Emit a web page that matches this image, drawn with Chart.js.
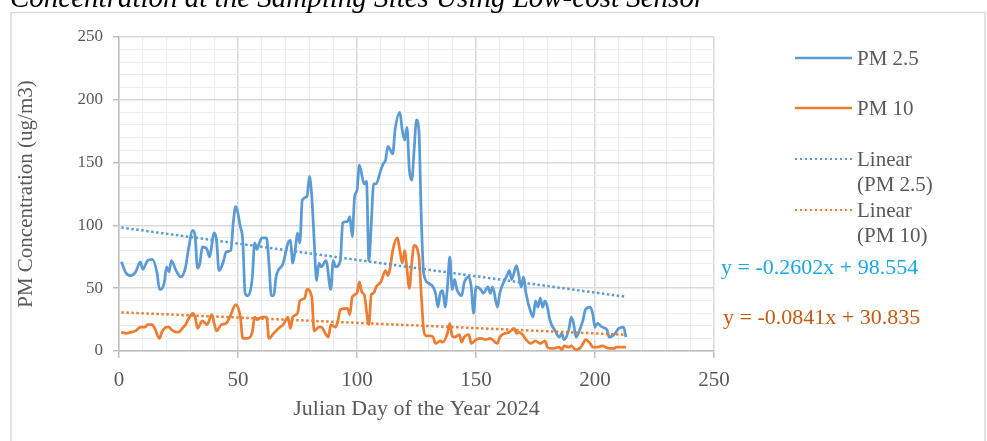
<!DOCTYPE html>
<html>
<head>
<meta charset="utf-8">
<script src="https://cdn.jsdelivr.net/npm/chart.js@4.4.1/dist/chart.umd.min.js"></script>
<style>
  html, body { margin: 0; padding: 0; background: #ffffff; }
  #wrap { position: relative; width: 987px; height: 441px; overflow: hidden; }
</style>
</head>
<body>
<div id="wrap"><canvas id="chart" width="987" height="441"></canvas></div>
<script>
// Daily PM readings from the low-cost sensor (Julian day, ug/m3)
const pm25Days = [1,3,5,7,9,10,12,14,16,17,19,20,21,22,24,26,28,29,31,32,33,34,35,37,38,40,41,42,44,45,47,48,49,51,52,53,54,56,57,58,59,60,62,63,64,65,66,69,71,72,73,74,75,76,77,79,80,81,82,83,84,85,87,89,90,91,93,94,96,97,98,99,100,101,103,104,105,106,107,108,110,111,112,113,115,116,118,119,120,121,122,123,124,125,126,127,128,130,132,133,134,135,136,137,138,139,140,141,142,144,145,147,148,149,150,152,153,155,156,157,159,160,161,163,164,165,167,168,169,170,171,173,174,175,176,177,178,179,180,181,182,183,185,186,187,189,190,191,192,194,195,196,198,199,200,201,203,205,206,208,210,212,213];
const pm25Values = [71,62,60,63,71,65,72,73,62,49,54,67,63,72,64,59,67,79,96,91,66,70,83,81,75,94,88,64,72,79,80,102,115,99,88,46,44,58,86,81,86,90,90,70,44,44,59,70,86,88,70,80,94,86,120,123,139,123,88,56,70,67,72,49,72,67,72,102,103,107,91,123,128,148,133,135,72,101,133,133,144,149,152,163,157,176,190,176,168,178,144,136,160,184,176,107,62,54,51,46,35,46,48,35,51,75,49,57,49,44,54,59,51,30,51,49,46,51,46,51,35,46,52,60,64,57,68,60,51,59,46,31,27,40,35,42,35,40,35,25,20,17,11,14,9,17,27,22,11,19,25,33,35,30,19,22,19,17,11,13,18,19,11];

const pm10Days = [1,3,5,7,9,11,12,14,15,17,18,20,21,22,24,25,27,28,29,30,31,32,33,34,35,37,39,40,41,43,45,47,49,51,52,54,56,57,58,60,62,63,65,67,69,71,72,73,75,76,78,79,81,82,84,85,87,88,89,91,92,93,96,97,98,100,101,102,103,105,106,107,108,110,112,113,114,115,117,118,119,120,121,122,123,124,126,127,128,129,131,132,133,135,136,138,139,140,141,143,144,145,147,148,150,152,154,156,159,160,162,164,166,167,168,170,171,173,174,175,177,179,180,182,185,186,187,189,190,192,194,195,196,198,199,201,203,206,208,209,211,213];
const pm10Values = [15,14,15,16,19,19,21,21,18,10,15,19,19,17,15,15,19,21,25,28,30,27,18,21,24,21,29,22,16,21,22,29,37,27,10,10,15,27,25,27,27,10,14,18,21,27,18,27,30,40,42,49,43,16,19,19,13,11,21,19,24,33,34,29,43,46,55,47,45,21,45,46,51,55,64,60,67,80,90,80,70,80,65,50,70,84,75,45,17,12,12,11,6,8,7,14,22,12,11,13,7,11,13,6,9,10,9,10,6,11,14,15,18,14,15,12,9,6,7,8,6,8,3,2,3,1,4,3,4,1,3,6,9,6,3,3,4,2,2,3,3,3];

// Linear trend lines (least-squares fits shown as equations)
const pm25Trend = { slope: -0.2602, intercept: 98.554 };
const pm10Trend = { slope: -0.0841, intercept: 30.835 };

const seriesNames = ['PM 2.5', 'PM 10'];
const trendNames = [['Linear', '(PM 2.5)'], ['Linear', '(PM 10)']];
const xTitle = 'Julian Day of the Year 2024';
const yTitle = 'PM Concentration (ug/m3)';
const chartTitle = 'Concentration at the Sampling Sites Using Low-cost Sensor';

const BLUE = '#5b9bd5';
const ORANGE = '#ed7d31';
const TEXT = '#595959';
const SERIF = '"Liberation Serif", "Times New Roman", serif';

function toPoints(days, values) {
  return days.map((d, i) => ({ x: d, y: values[i] }));
}
function trendPoints(days, fit) {
  const a = days[0], b = days[days.length - 1];
  return [{ x: a, y: fit.intercept + fit.slope * a }, { x: b, y: fit.intercept + fit.slope * b }];
}
function fmtEq(fit) {
  return 'y = ' + fit.slope.toFixed(4) + 'x + ' + fit.intercept.toFixed(3);
}

// Frame, title, legend and trend equations drawn on top of the plot
const decorations = {
  id: 'decorations',
  afterDraw(chart) {
    const ctx = chart.ctx;
    ctx.save();
    // outer frame
    ctx.strokeStyle = '#d9d9d9';
    ctx.lineWidth = 1.5;
    ctx.strokeRect(11, 12.5, 974, 440);

    // heading (partly above the frame)
    ctx.fillStyle = '#000000';
    ctx.font = 'italic 29px ' + SERIF;
    ctx.textBaseline = 'alphabetic';
    ctx.textAlign = 'left';
    ctx.fillText(chartTitle, 10, 7);

    // legend
    const items = [
      { lines: [seriesNames[0]], color: BLUE, dash: [], y: 58 },
      { lines: [seriesNames[1]], color: ORANGE, dash: [], y: 108 },
      { lines: trendNames[0], color: BLUE, dash: [2, 3], y: 159 },
      { lines: trendNames[1], color: ORANGE, dash: [2, 3], y: 210 }
    ];
    ctx.font = '21px ' + SERIF;
    ctx.textBaseline = 'middle';
    items.forEach(it => {
      ctx.beginPath();
      ctx.setLineDash(it.dash);
      ctx.strokeStyle = it.color;
      ctx.lineWidth = it.dash.length ? 2 : 2.5;
      ctx.moveTo(795, it.y);
      ctx.lineTo(852, it.y);
      ctx.stroke();
      ctx.setLineDash([]);
      ctx.fillStyle = TEXT;
      it.lines.forEach((t, k) => ctx.fillText(t, 857, it.y + 1 + k * 25.5));
    });

    // trend equations
    ctx.font = '22px ' + SERIF;
    ctx.fillStyle = '#1aa7e6';
    ctx.fillText(fmtEq(pm25Trend), 721, 268);
    ctx.fillStyle = '#c55a11';
    ctx.fillText(fmtEq(pm10Trend), 723, 318);
    ctx.restore();
  }
};

const isMajor = v => Math.abs(v % 50) < 1e-6;

new Chart(document.getElementById('chart'), {
  type: 'line',
  data: {
    datasets: [
      { label: seriesNames[0], data: toPoints(pm25Days, pm25Values), borderColor: BLUE, borderWidth: 2.75,
        pointRadius: 0, cubicInterpolationMode: 'monotone', fill: false, order: 2 },
      { label: seriesNames[1], data: toPoints(pm10Days, pm10Values), borderColor: ORANGE, borderWidth: 2.75,
        pointRadius: 0, cubicInterpolationMode: 'monotone', fill: false, order: 2 },
      { label: 'Linear (PM 2.5)', data: trendPoints(pm25Days, pm25Trend), borderColor: BLUE, borderWidth: 2.5,
        borderDash: [2.5, 2.5], pointRadius: 0, fill: false, order: 1 },
      { label: 'Linear (PM 10)', data: trendPoints(pm10Days, pm10Trend), borderColor: ORANGE, borderWidth: 2.5,
        borderDash: [2.5, 2.5], pointRadius: 0, fill: false, order: 1 }
    ]
  },
  options: {
    responsive: false,
    animation: false,
    devicePixelRatio: 1,
    layout: { padding: { left: 12, top: 37, right: 273, bottom: 0 } },
    plugins: { legend: { display: false }, tooltip: { enabled: false }, title: { display: false } },
    scales: {
      x: {
        type: 'linear', min: 0, max: 250,
        afterFit(scale) { scale.height = 90; },
        ticks: {
          stepSize: 10, autoSkip: false, maxRotation: 0, padding: 10,
          color: TEXT, font: { family: SERIF, size: 21 },
          callback: v => isMajor(v) ? String(v) : ''
        },
        grid: {
          color: c => isMajor(c.tick.value) ? '#d9d9d9' : '#ededed',
          lineWidth: c => isMajor(c.tick.value) ? 1.5 : 1,
          tickColor: c => isMajor(c.tick.value) ? '#bfbfbf' : 'rgba(0,0,0,0)',
          tickLength: 7
        },
        border: { color: '#bfbfbf', width: 1.5 },
        title: { display: true, text: xTitle, color: TEXT, font: { family: SERIF, size: 22 }, padding: { top: 0, bottom: 19 } }
      },
      y: {
        type: 'linear', min: 0, max: 250,
        afterFit(scale) { scale.width = 107; },
        ticks: {
          stepSize: 10, autoSkip: false, padding: 10,
          color: TEXT, font: { family: SERIF, size: 17 },
          callback: v => isMajor(v) ? String(v) : ''
        },
        grid: {
          color: c => isMajor(c.tick.value) ? '#d9d9d9' : '#ededed',
          lineWidth: c => isMajor(c.tick.value) ? 1.5 : 1,
          tickColor: c => isMajor(c.tick.value) ? '#bfbfbf' : 'rgba(0,0,0,0)',
          tickLength: 6
        },
        border: { color: '#bfbfbf', width: 1.5 },
        title: { display: true, text: yTitle, color: TEXT, font: { family: SERIF, size: 21 }, padding: { top: 2, bottom: 0 } }
      }
    }
  },
  plugins: [decorations]
});
</script>
</body>
</html>
